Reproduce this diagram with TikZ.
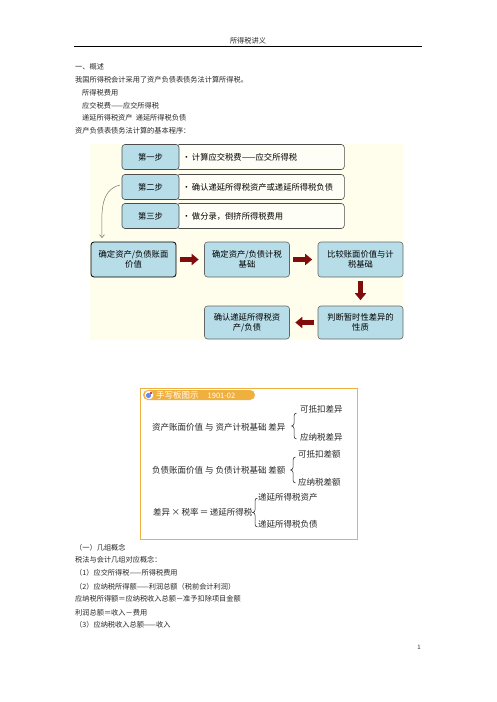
\documentclass[tikz,border=0pt]{standalone}
\usepackage{fontspec}
\setmainfont{Noto Sans CJK SC}
\usepackage{tikz}
\usetikzlibrary{arrows.meta,positioning}

\definecolor{panelcream}{RGB}{255,253,236}
\definecolor{stepblue}{RGB}{183,221,232}
\definecolor{arrowred}{RGB}{128,12,12}
\definecolor{boardorange}{RGB}{240,176,64}
\definecolor{inktext}{RGB}{40,40,40}

% left curly brace: x, top, bottom
\newcommand{\leftcurl}[3]{%
	\draw[inktext,line width=0.5pt] ({#1+2.5},#2) to[out=180,in=90] (#1,{#2+3})
		-- (#1,{(#2+#3)/2-2.5}) to[out=-90,in=0] ({#1-2.5},{(#2+#3)/2})
		to[out=0,in=90] (#1,{(#2+#3)/2+2.5}) -- (#1,{#3-3})
		to[out=-90,in=180] ({#1+2.5},#3);}

\tikzset{
	bodytext/.style={anchor=west,inner sep=0pt,text=inktext,font=\fontsize{7.2}{8}\selectfont},
	steplabel/.style={draw=black!70,fill=stepblue,rounded corners=3pt,line width=0.6pt,
		minimum width=57pt,minimum height=25pt,inner sep=1pt,font=\fontsize{8.3}{9}\selectfont},
	stepnote/.style={draw=black!70,fill=white!55!panelcream,rounded corners=3pt,line width=0.6pt,
		anchor=west,text width=156pt,inner xsep=6pt,minimum height=25pt,align=left,
		font=\fontsize{8.3}{9}\selectfont},
	flowbox/.style={draw=black!60,fill=stepblue,rounded corners=3pt,line width=0.6pt,
		minimum width=85pt,minimum height=35pt,inner sep=1pt,align=center,
		font=\fontsize{8.3}{9.5}\selectfont},
	bigarrow/.style={arrowred,line width=5pt,-{Triangle[width=11pt,length=7pt]},
		shorten <=3.5pt,shorten >=5.5pt},
	boardtext/.style={anchor=west,inner sep=0pt,text=inktext,font=\fontsize{8.5}{9}\selectfont},
}

\begin{document}
\begin{tikzpicture}[x=1pt,y=-1pt]
	\useasboundingbox[fill=white] (0,0) rectangle (496,702);

	% Page header.
	\node[bodytext,anchor=center] (head) at (248,41) {所得税讲义};
	\draw[line width=0.8pt] (74,46.5) -- (422,46.5);

	% Opening text.
	\node[bodytext] (t1) at (75,67)  {一、概述};
	\node[bodytext] (t2) at (75,80)  {我国所得税会计采用了资产负债表债务法计算所得税。};
	\node[bodytext] (t3) at (82,93)  {所得税费用};
	\node[bodytext] (t4) at (82,106) {应交税费——应交所得税};
	\node[bodytext] (t5) at (82,118) {递延所得税资产\ \ 递延所得税负债};
	\node[bodytext] (t6) at (75,131) {资产负债表债务法计算的基本程序：};

	% Procedure chart.
	\fill[panelcream] (90,144) rectangle (403,340);

	\node[stepnote] (n1) at (176,157) {•\,计算应交税费——应交所得税};
	\node[stepnote] (n2) at (176,187) {•\,确认递延所得税资产或递延所得税负债};
	\node[stepnote] (n3) at (176,216) {•\,做分录，倒挤所得税费用};
	\node[steplabel] (s1) at (150.5,157) {第一步};
	\node[steplabel] (s2) at (150.5,187) {第二步};
	\node[steplabel] (s3) at (150.5,216) {第三步};

	\node[flowbox,draw=black,line width=0.8pt] (b1) at (133.5,259.5) {确定资产/负债账面\\价值};
	\node[flowbox] (b2) at (247,259.5)   {确定资产/负债计税\\基础};
	\node[flowbox] (b3) at (360.5,259.5) {比较账面价值与计\\税基础};
	\node[flowbox,minimum height=33pt] (b4) at (360.5,322.5) {判断暂时性差异的\\性质};
	\node[flowbox,minimum height=33pt] (b5) at (247,322.5)   {确认递延所得税资\\产/负债};

	\coordinate (drop) at (102,238);
	\draw[black!55,line width=0.5pt,-{Straight Barb[length=3pt,width=5pt]}]
		([xshift=-2pt,yshift=2pt]s2.west) to[out=195,in=90] (drop);

	\draw[bigarrow] (b1) -- (b2);
	\draw[bigarrow] (b2) -- (b3);
	\draw[bigarrow] (b3) -- (b4);
	\draw[bigarrow] (b4) -- (b5);

	% Board sketch.
	\draw[boardorange,line width=0.8pt,fill=white] (140,388) rectangle (357,539);
	\fill[boardorange,rounded corners=5pt] (143,390) rectangle (255,400);
	\fill[white] (149,395) circle (4.3pt);
	\fill[stepblue!60!blue] (148.5,395.5) circle (2.6pt);
	\fill[red!80!black] (151,393) circle (1.1pt);
	\node[boardtext,text=white] (board) at (156,395)
		{手写板图示\hspace{9pt}{\fontsize{7.5}{8}\selectfont 1901-02}};

	\node[boardtext] (m1) at (152,427) {资产账面价值\ 与\ 资产计税基础\ 差异};
	\node[boardtext] (k1) at (300,409) {可抵扣差异};
	\node[boardtext] (k2) at (300,437) {应纳税差异};
	\leftcurl{294}{413}{439}

	\node[boardtext] (m2) at (152,470) {负债账面价值\ 与\ 负债计税基础\ 差额};
	\node[boardtext] (k3) at (298,454) {可抵扣差额};
	\node[boardtext] (k4) at (298,482) {应纳税差额};
	\leftcurl{293}{457}{483}

	\node[boardtext] (m3) at (153,512) {差异\,×\,税率\,＝\,递延所得税};
	\node[boardtext] (k5) at (258,497) {递延所得税资产};
	\node[boardtext] (k6) at (258,524) {递延所得税负债};
	\leftcurl{255}{498}{527}

	% Closing text.
	\node[bodytext] (u1) at (75,548) {（一）几组概念};
	\node[bodytext] (u2) at (75,560) {税法与会计几组对应概念：};
	\node[bodytext] (u3) at (75,573) {（1）应交所得税——所得税费用};
	\node[bodytext] (u4) at (75,587) {（2）应纳税所得额——利润总额（税前会计利润）};
	\node[bodytext] (u5) at (75,599) {应纳税所得额＝应纳税收入总额－准予扣除项目金额};
	\node[bodytext] (u6) at (75,613) {利润总额＝收入－费用};
	\node[bodytext] (u7) at (75,625) {（3）应纳税收入总额——收入};

	\node[bodytext,anchor=center,font=\fontsize{6}{7}\selectfont] (page) at (419,647) {1};
\end{tikzpicture}
\end{document}
